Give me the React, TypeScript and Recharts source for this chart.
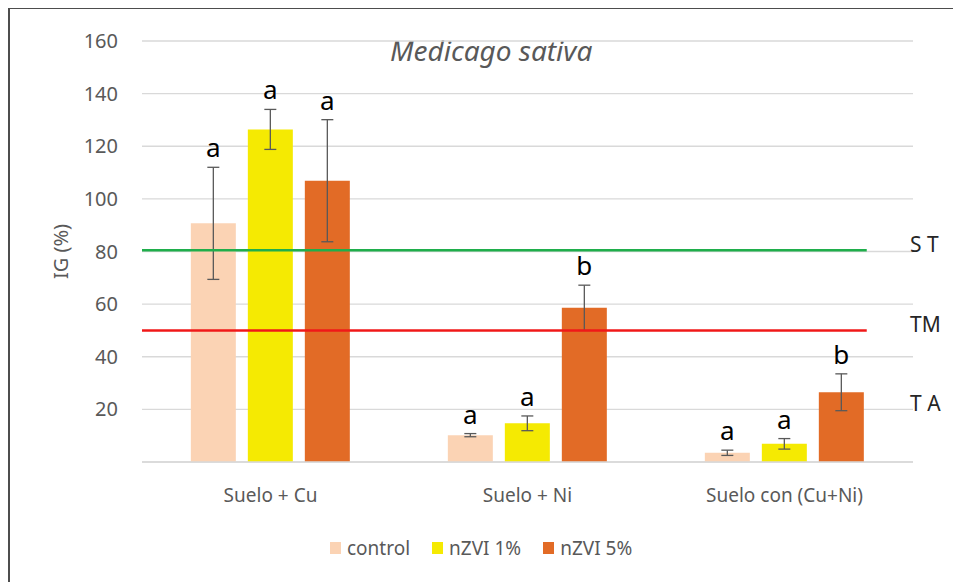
import React from "react";
import {
  BarChart,
  Bar,
  XAxis,
  YAxis,
  CartesianGrid,
  ErrorBar,
  LabelList,
  Legend,
  ReferenceLine,
} from "recharts";

const CATEGORIES = ["Suelo + Cu", "Suelo + Ni", "Suelo con (Cu+Ni)"];

const CONTROL = [90.7, 10.2, 3.5];
const CONTROL_ERR = [21.3, 0.6, 1.0];
const CONTROL_SIG = ["a", "a", "a"];

const NZVI1 = [126.4, 14.7, 6.9];
const NZVI1_ERR = [7.6, 2.8, 2.0];
const NZVI1_SIG = ["a", "a", "a"];

const NZVI5 = [106.9, 58.6, 26.5];
const NZVI5_ERR = [23.2, 8.6, 7.0];
const NZVI5_SIG = ["a", "b", "b"];

const Y_TICKS = [0, 20, 40, 60, 80, 100, 120, 140, 160];

// threshold lines (ST, TM, TA); lines stop at this share of the plot width
const THRESHOLD_NAMES = ["S T", "TM", "T A"];
const THRESHOLD_VALUES = [80.5, 50, 20];
const THRESHOLD_COLORS = ["#1fae4b", "#f01818", "none"];
const LINE_SHARE = 0.94;

const SERIES = [
  { key: "control", name: "control", color: "#fbd3b4", values: CONTROL, err: CONTROL_ERR, sig: CONTROL_SIG },
  { key: "nzvi1", name: "nZVI 1%", color: "#f5ea02", values: NZVI1, err: NZVI1_ERR, sig: NZVI1_SIG },
  { key: "nzvi5", name: "nZVI 5%", color: "#e26b26", values: NZVI5, err: NZVI5_ERR, sig: NZVI5_SIG },
];

const data = CATEGORIES.map((cat, i) => {
  const row: any = { cat };
  SERIES.forEach((s) => {
    row[s.key] = s.values[i];
    row[s.key + "Err"] = s.err[i];
    row[s.key + "Sig"] = s.sig[i];
  });
  return row;
});

const FONT = "'Noto Sans', sans-serif";
const GREY = "#595959";

function SigLabel(props: any) {
  const { x, y, width, height, value, index, series } = props;
  const barVal = series.values[index];
  const pxPerUnit = Number(height) / barVal;
  const errTop = Number(y) - series.err[index] * pxPerUnit;
  return (
    <text
      x={Number(x) + Number(width) / 2}
      y={errTop - 10}
      textAnchor="middle"
      fontSize={26}
      fontFamily={FONT}
      fill="#000"
    >
      {value}
    </text>
  );
}

function LegendContent() {
  return (
    <div
      style={{
        display: "flex",
        alignItems: "center",
        height: 30,
        paddingLeft: 322,
        fontFamily: FONT,
        fontSize: 19,
        color: GREY,
      }}
    >
      {SERIES.map((s) => (
        <div key={s.key} style={{ display: "flex", alignItems: "center", marginRight: 22 }}>
          <span style={{ width: 11, height: 12, background: s.color, marginRight: 6, display: "inline-block" }} />
          <span>{s.name}</span>
        </div>
      ))}
    </div>
  );
}

export default function App() {
  return (
    <div style={{ position: "relative", width: 953, height: 574 }}>
      <div
        style={{
          position: "absolute",
          left: 0,
          top: -1,
          width: 953,
          height: 575,
          borderTop: "2px solid #4d4d4d",
          borderLeft: "2px solid #4d4d4d",
          boxSizing: "border-box",
        }}
      />
      <div
        style={{
          position: "absolute",
          left: 382,
          top: 23,
          width: 200,
          textAlign: "center",
          fontFamily: FONT,
          fontStyle: "italic",
          fontSize: 28,
          color: GREY,
          whiteSpace: "nowrap",
          lineHeight: "38px",
        }}
      >
        Medicago sativa
      </div>
      <BarChart
        width={953}
        height={574}
        data={data}
        margin={{ top: 33, right: 48, left: 0, bottom: 0 }}
        barCategoryGap="19%"
        barGap={12}
      >
        <CartesianGrid vertical={false} stroke="#d9d9d9" strokeWidth={1.3} />
        <XAxis
          dataKey="cat"
          height={90}
          tickLine={false}
          tickSize={0}
          tickMargin={27}
          axisLine={{ stroke: "#d9d9d9", strokeWidth: 1.3 }}
          tick={{ fill: GREY, fontSize: 19, fontFamily: FONT }}
        />
        <YAxis
          width={134}
          domain={[0, 160]}
          ticks={Y_TICKS}
          axisLine={false}
          tickLine={false}
          tickSize={0}
          tickMargin={24}
          tickFormatter={(v: number) => (v === 0 ? "" : String(v))}
          tick={{ fill: GREY, fontSize: 20, fontFamily: FONT }}
          label={(p: any) => {
            const vb = p.viewBox;
            const cx = vb.x + 52;
            const cy = vb.y + vb.height / 2;
            return (
              <text
                x={cx}
                y={cy}
                transform={`rotate(-90 ${cx} ${cy})`}
                textAnchor="middle"
                dominantBaseline="central"
                fontSize={20}
                fontFamily={FONT}
                fill={GREY}
              >
                IG (%)
              </text>
            );
          }}
        />
        {SERIES.map((s) => (
          <Bar key={s.key} dataKey={s.key} name={s.name} fill={s.color} isAnimationActive={false}>
            <ErrorBar dataKey={s.key + "Err"} width={6} stroke="#595959" strokeWidth={1.3} />
            <LabelList
              dataKey={s.key + "Sig"}
              content={(p: any) => <SigLabel {...p} series={s} />}
            />
          </Bar>
        ))}
        {THRESHOLD_NAMES.map((name, i) => (
          <ReferenceLine
            key={name}
            y={THRESHOLD_VALUES[i]}
            ifOverflow="visible"
            shape={(p: any) => {
              const x2 = p.x1 + (p.x2 - p.x1) * LINE_SHARE;
              return (
                <g>
                  <line
                    x1={p.x1}
                    y1={p.y1}
                    x2={x2}
                    y2={p.y2}
                    stroke={THRESHOLD_COLORS[i]}
                    strokeWidth={2.6}
                  />
                  <text
                    x={p.x2 - 3}
                    y={p.y1 - 6}
                    dominantBaseline="central"
                    fontSize={21}
                    fontFamily={FONT}
                    fill="#262626"
                  >
                    {name}
                  </text>
                </g>
              );
            }}
          />
        ))}
        <Legend
          verticalAlign="bottom"
          content={() => <LegendContent />}
          wrapperStyle={{ top: 525, left: 0, bottom: "auto", width: 953, height: 30 }}
        />
      </BarChart>
    </div>
  );
}
